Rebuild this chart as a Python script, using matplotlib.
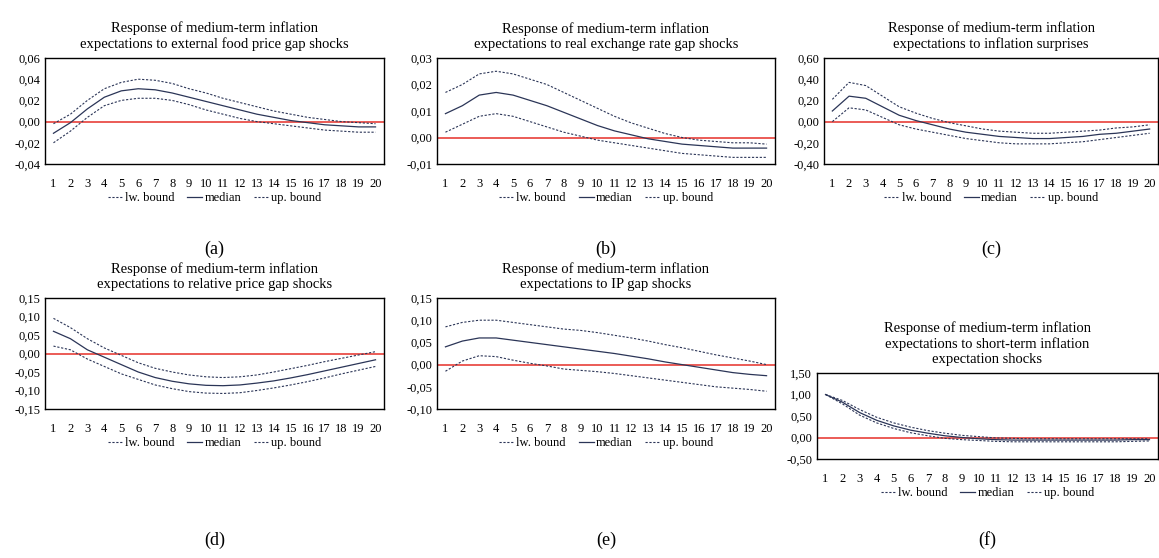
import numpy as np
import matplotlib.pyplot as plt
from matplotlib.ticker import FuncFormatter

plt.rcParams['font.family'] = ['Liberation Serif', 'DejaVu Serif']

horizons = list(range(1, 21))

titles = [
    "Response of medium-term inflation\nexpectations to external food price gap shocks",
    "Response of medium-term inflation\nexpectations to real exchange rate gap shocks",
    "Response of medium-term inflation\nexpectations to inflation surprises",
    "Response of medium-term inflation\nexpectations to relative price gap shocks",
    "Response of medium-term inflation\nexpectations to IP gap shocks",
    "Response of medium-term inflation\nexpectations to short-term inflation\nexpectation shocks",
]
panel_labels = ["(a)", "(b)", "(c)", "(d)", "(e)", "(f)"]

# (a) external food price gap
a_med = [-0.011, -0.001, 0.012, 0.023, 0.029, 0.031, 0.030, 0.027, 0.023, 0.019,
         0.015, 0.011, 0.007, 0.004, 0.001, -0.001, -0.003, -0.004, -0.005, -0.005]
a_lo = [-0.020, -0.009, 0.004, 0.015, 0.020, 0.022, 0.022, 0.020, 0.016, 0.011,
        0.007, 0.003, 0.000, -0.002, -0.004, -0.006, -0.008, -0.009, -0.010, -0.010]
a_up = [-0.002, 0.007, 0.020, 0.031, 0.037, 0.040, 0.039, 0.036, 0.031, 0.027,
        0.022, 0.018, 0.014, 0.010, 0.007, 0.004, 0.002, 0.000, -0.001, -0.002]

# (b) real exchange rate gap
b_med = [0.009, 0.012, 0.016, 0.017, 0.016, 0.014, 0.012, 0.0095, 0.007, 0.0045,
         0.0025, 0.001, -0.0005, -0.0015, -0.0025, -0.003, -0.0035, -0.004, -0.004, -0.004]
b_lo = [0.002, 0.005, 0.008, 0.009, 0.008, 0.006, 0.004, 0.002, 0.0005, -0.001,
        -0.002, -0.003, -0.004, -0.005, -0.006, -0.0065, -0.007, -0.0075, -0.0075, -0.0075]
b_up = [0.017, 0.020, 0.024, 0.025, 0.024, 0.022, 0.020, 0.017, 0.014, 0.011,
        0.008, 0.0055, 0.0035, 0.0015, 0.0, -0.001, -0.0015, -0.002, -0.002, -0.0025]

# (c) inflation surprises
c_med = [0.10, 0.24, 0.22, 0.14, 0.06, 0.01, -0.03, -0.07, -0.10, -0.12,
         -0.14, -0.15, -0.16, -0.16, -0.15, -0.14, -0.12, -0.11, -0.09, -0.07]
c_lo = [0.0, 0.13, 0.11, 0.04, -0.03, -0.07, -0.10, -0.13, -0.16, -0.18,
        -0.20, -0.21, -0.21, -0.21, -0.20, -0.19, -0.17, -0.15, -0.13, -0.11]
c_up = [0.21, 0.37, 0.34, 0.24, 0.14, 0.08, 0.03, -0.01, -0.04, -0.07,
        -0.09, -0.10, -0.11, -0.11, -0.10, -0.09, -0.08, -0.06, -0.05, -0.03]

# (d) relative price gap
d_med = [0.06, 0.04, 0.01, -0.01, -0.03, -0.05, -0.065, -0.075, -0.082, -0.086,
         -0.087, -0.085, -0.08, -0.074, -0.066, -0.057, -0.047, -0.037, -0.027, -0.017]
d_lo = [0.02, 0.01, -0.015, -0.035, -0.055, -0.07, -0.085, -0.095, -0.103, -0.107,
        -0.108, -0.106, -0.1, -0.093, -0.085, -0.076, -0.066, -0.055, -0.045, -0.035]
d_up = [0.095, 0.07, 0.04, 0.015, -0.005, -0.025, -0.04, -0.05, -0.058, -0.063,
        -0.065, -0.063, -0.058, -0.05, -0.041, -0.032, -0.022, -0.013, -0.004, 0.005]

# (e) IP gap
e_med = [0.04, 0.053, 0.06, 0.06, 0.055, 0.05, 0.045, 0.04, 0.035, 0.03,
         0.025, 0.019, 0.013, 0.006, 0.0, -0.006, -0.012, -0.018, -0.022, -0.025]
e_lo = [-0.015, 0.008, 0.02, 0.018, 0.01, 0.003, -0.003, -0.01, -0.013, -0.016,
        -0.02, -0.025, -0.03, -0.035, -0.04, -0.045, -0.05, -0.053, -0.056, -0.06]
e_up = [0.085, 0.095, 0.10, 0.10, 0.095, 0.09, 0.085, 0.08, 0.077, 0.072,
        0.066, 0.06, 0.053, 0.045, 0.038, 0.03, 0.022, 0.015, 0.008, 0.0]

# (f) short-term inflation expectation shocks
f_med = [1.0, 0.82, 0.58, 0.40, 0.27, 0.17, 0.10, 0.04, 0.0, -0.03,
         -0.05, -0.06, -0.06, -0.06, -0.06, -0.06, -0.06, -0.06, -0.05, -0.05]
f_lo = [1.0, 0.78, 0.52, 0.34, 0.21, 0.11, 0.04, -0.02, -0.05, -0.07,
        -0.09, -0.10, -0.10, -0.10, -0.10, -0.10, -0.10, -0.10, -0.09, -0.08]
f_up = [1.0, 0.86, 0.65, 0.47, 0.34, 0.24, 0.16, 0.10, 0.05, 0.02,
        -0.01, -0.02, -0.03, -0.03, -0.03, -0.03, -0.03, -0.03, -0.03, -0.03]

series = [(a_lo, a_med, a_up), (b_lo, b_med, b_up), (c_lo, c_med, c_up),
          (d_lo, d_med, d_up), (e_lo, e_med, e_up), (f_lo, f_med, f_up)]
yticks = [np.arange(-0.04, 0.061, 0.02), np.arange(-0.01, 0.031, 0.01),
          np.arange(-0.4, 0.61, 0.2), np.arange(-0.15, 0.151, 0.05),
          np.arange(-0.10, 0.151, 0.05), np.arange(-0.5, 1.51, 0.5)]

W, H = 1159, 558
# axes boxes in pixels: left, top, right, bottom
boxes = [(45, 58, 384, 164), (437, 58, 775, 164), (824, 58, 1158, 164),
         (45, 298, 384, 409), (437, 298, 775, 409), (817, 373, 1158, 459)]
label_y = [249, 249, 249, 540, 540, 540]

fig = plt.figure(figsize=(W / 100, H / 100), dpi=100)
navy = '#2B3557'

for i in range(6):
    l, t, r, b = boxes[i]
    ax = fig.add_axes([l / W, 1 - b / H, (r - l) / W, (b - t) / H])
    lo, med, up = series[i]
    ax.axhline(0, color='#E8403A', lw=1.2, zorder=1)
    ax.plot(horizons, lo, color=navy, lw=0.8, ls=(0, (2, 1.5)), label='lw. bound')
    ax.plot(horizons, med, color=navy, lw=0.9, label='median')
    ax.plot(horizons, up, color=navy, lw=0.8, ls=(0, (2, 1.5)), label='up. bound')
    yt = yticks[i]
    ax.set_yticks(yt)
    ax.set_ylim(yt[0], yt[-1])
    ax.set_xlim(0.5, 20.5)
    ax.set_xticks(horizons)
    ax.yaxis.set_major_formatter(FuncFormatter(lambda v, p: f"{v:.2f}".replace('.', ',')))
    ax.tick_params(length=0, labelsize=9)
    ax.tick_params(axis='x', pad=10)
    for s in ax.spines.values():
        s.set_linewidth(1.0)
    ax.set_title(titles[i], fontsize=10.5, pad=7, linespacing=1.2)
    ax.legend(loc='upper center', bbox_to_anchor=((l + r) / 2 / W, 1 - (b + 28) / H),
              bbox_transform=fig.transFigure, ncol=3, frameon=False,
              fontsize=9, handlelength=1.2, handletextpad=0.2, columnspacing=1.0,
              borderaxespad=0, borderpad=0)
    fig.text((l + r) / 2 / W, 1 - label_y[i] / H, panel_labels[i], ha='center',
             va='center', fontsize=13)

fig.savefig('out.png', dpi=100)
